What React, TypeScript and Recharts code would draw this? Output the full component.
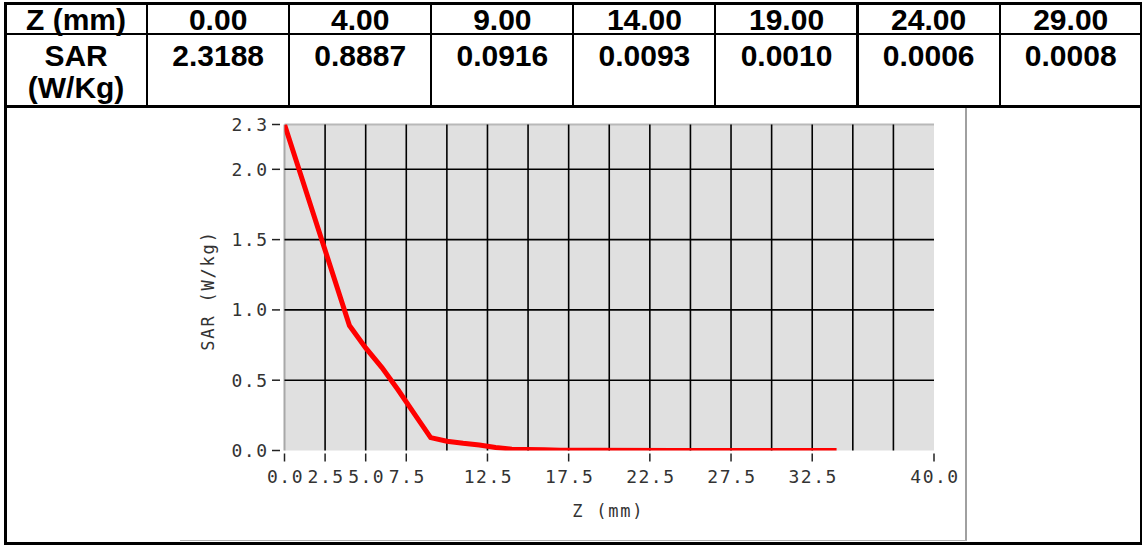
import React from 'react';
import { LineChart, Line, XAxis, YAxis, ReferenceLine, ReferenceArea, Label } from 'recharts';

// ---- table data ----
const tableHeaderZ = 'Z (mm)';
const tableHeaderSAR = ['SAR', '(W/Kg)'];
const tableZ = ['0.00', '4.00', '9.00', '14.00', '19.00', '24.00', '29.00'];
const tableSAR = ['2.3188', '0.8887', '0.0916', '0.0093', '0.0010', '0.0006', '0.0008'];

// ---- chart data ----
const zValues = [0, 4, 5, 6, 7, 8, 9, 10, 11, 12, 13, 14, 15, 16, 17, 19, 24, 29, 34];
const sarValues = [2.3188, 0.8887, 0.73, 0.59, 0.43, 0.26, 0.0916, 0.066, 0.051, 0.039, 0.022, 0.0093, 0.007, 0.005, 0.002, 0.001, 0.0006, 0.0008, 0.0005];

// ---- axes ----
const xDomain = [0, 40];
const xTickValues = [0, 2.5, 5, 7.5, 12.5, 17.5, 22.5, 27.5, 32.5, 40];
const xGridValues = [2.5, 5, 7.5, 10, 12.5, 15, 17.5, 20, 22.5, 25, 27.5, 30, 32.5, 35, 37.5];
const yMax = 2.3188;
const yTickValues = [0, 0.5, 1, 1.5, 2, 2.3188];
const yGridValues = [0.5, 1, 1.5, 2];
const xTitle = 'Z (mm)';
const yTitle = 'SAR (W/kg)';

const data = zValues.map((z, i) => ({ z, sar: sarValues[i] }));

const AXIS_FONT = '"DejaVu Sans Mono", "Liberation Mono", monospace';
const TXT = '#333333';

const renderXTick = (props: any) => {
  const { x, y, payload } = props;
  return (
    <g>
      <line x1={x} x2={x} y1={y + 3} y2={y + 11} stroke="#222" strokeWidth={1.5} />
      <text x={x + 1} y={y + 32} textAnchor="middle" fontFamily={AXIS_FONT} fontSize={18} letterSpacing={1.5} fill={TXT}>
        {Number(payload.value).toFixed(1)}
      </text>
    </g>
  );
};

const renderYTick = (props: any) => {
  const { x, y, payload } = props;
  return (
    <g>
      <line x1={x - 12.5} x2={x - 4.5} y1={y} y2={y} stroke="#222" strokeWidth={1.5} />
      <text x={x - 16} y={y + 6.5} textAnchor="end" fontFamily={AXIS_FONT} fontSize={18} letterSpacing={1.5} fill={TXT}>
        {Number(payload.value).toFixed(1)}
      </text>
    </g>
  );
};

const W = 1144;
const H = 545;
const colW = 142.1;
const colX0 = 5;
const Y_AXIS_W = 80;
const X_AXIS_H = 70;

const line = (style: React.CSSProperties) => (
  <div style={{ position: 'absolute', background: '#000', ...style }} />
);

export default function App() {
  const cellFont: React.CSSProperties = {
    fontFamily: '"Liberation Sans", Arial, sans-serif',
    fontWeight: 'bold',
    fontSize: 30,
    color: '#000',
    textAlign: 'center',
    position: 'absolute',
    whiteSpace: 'nowrap',
  };
  const headers = [tableHeaderZ, ...tableZ];
  return (
    <div style={{ position: 'absolute', left: 0, top: 0, width: W, height: H, overflow: 'hidden', background: '#fff' }}>
      {/* chart */}
      <div style={{ position: 'absolute', left: 0, top: 0 }}>
        <LineChart
          width={W}
          height={H}
          data={data}
          margin={{ top: 124.5, right: 210, bottom: 94.5 - X_AXIS_H, left: 284.5 - Y_AXIS_W }}
        >
          <XAxis
            dataKey="z"
            type="number"
            domain={xDomain}
            ticks={xTickValues}
            height={X_AXIS_H}
            tickSize={0}
            tickMargin={0}
            axisLine={false}
            tickLine={false}
            tick={renderXTick}
            interval={0}
            allowDataOverflow
          >
            <Label
              content={(p: any) => {
                const vb = p.viewBox || {};
                return (
                  <text x={vb.x + vb.width / 2 - 1} y={vb.y + 66} textAnchor="middle" fontFamily={AXIS_FONT} fontSize={17} letterSpacing={1.8} fill={TXT}>
                    {xTitle}
                  </text>
                );
              }}
            />
          </XAxis>
          <YAxis
            type="number"
            domain={[0, yMax]}
            ticks={yTickValues}
            width={Y_AXIS_W}
            tickSize={0}
            tickMargin={0}
            axisLine={false}
            tickLine={false}
            tick={renderYTick}
            interval={0}
            allowDataOverflow
          >
            <Label
              content={(p: any) => {
                const vb = p.viewBox || {};
                const cx = vb.x + vb.width - 77;
                const cy = vb.y + vb.height / 2 + 3;
                return (
                  <text x={cx} y={cy} transform={`rotate(-90 ${cx} ${cy})`} textAnchor="middle" dominantBaseline="central" fontFamily={AXIS_FONT} fontSize={17} letterSpacing={1.8} fill={TXT}>
                    {yTitle}
                  </text>
                );
              }}
            />
          </YAxis>
          <ReferenceArea x1={xDomain[0]} x2={xDomain[1]} y1={0} y2={yMax} fill="#e0e0e0" fillOpacity={1} stroke="none" />
          <ReferenceLine x={0} stroke="#a8a8a8" strokeWidth={2} />
          <ReferenceLine y={yMax} stroke="#b8b8b8" strokeWidth={2} />
          {xGridValues.map((v) => (
            <ReferenceLine key={'gx' + v} x={v} stroke="#000" strokeWidth={1.6} />
          ))}
          {yGridValues.map((v) => (
            <ReferenceLine key={'gy' + v} y={v} stroke="#000" strokeWidth={1.6} />
          ))}
          <Line dataKey="sar" type="linear" stroke="#ff0000" strokeWidth={5} dot={false} activeDot={false} isAnimationActive={false} />
        </LineChart>
      </div>

      {/* embedded image frame */}
      <div style={{ position: 'absolute', left: 965, top: 107, width: 2, height: 434, background: '#a0a0a0' }} />
      <div style={{ position: 'absolute', left: 180, top: 540, width: 787, height: 1, background: '#b0b0b0' }} />

      {/* table text */}
      {headers.map((h, i) => (
        <div key={'h' + i} style={{ ...cellFont, left: colX0 + i * colW, top: 4, width: colW, height: 31, lineHeight: '31px' }}>
          {h}
        </div>
      ))}
      <div style={{ ...cellFont, left: colX0, top: 40, width: colW, lineHeight: '32px' }}>
        {tableHeaderSAR[0]}
        <br />
        {tableHeaderSAR[1]}
      </div>
      {tableSAR.map((s, i) => (
        <div key={'s' + i} style={{ ...cellFont, left: colX0 + (i + 1) * colW, top: 40, width: colW, lineHeight: '32px' }}>
          {s}
        </div>
      ))}

      {/* table borders */}
      {line({ left: 4, top: 2, width: 1138, height: 2.5 })}
      {line({ left: 4, top: 32.5, width: 1138, height: 2.5 })}
      {line({ left: 4, top: 105, width: 1138, height: 2.5 })}
      {line({ left: 4, top: 542, width: 1138, height: 2.5 })}
      {line({ left: 4, top: 2, width: 2.5, height: 542.5 })}
      {line({ left: 1139.5, top: 2, width: 2.5, height: 542.5 })}
      {[1, 2, 3, 4, 5, 6, 7].map((k) => (
        <React.Fragment key={'c' + k}>{line({ left: colX0 + k * colW - 1.2, top: 2, width: 2.2, height: 105 })}</React.Fragment>
      ))}
    </div>
  );
}
